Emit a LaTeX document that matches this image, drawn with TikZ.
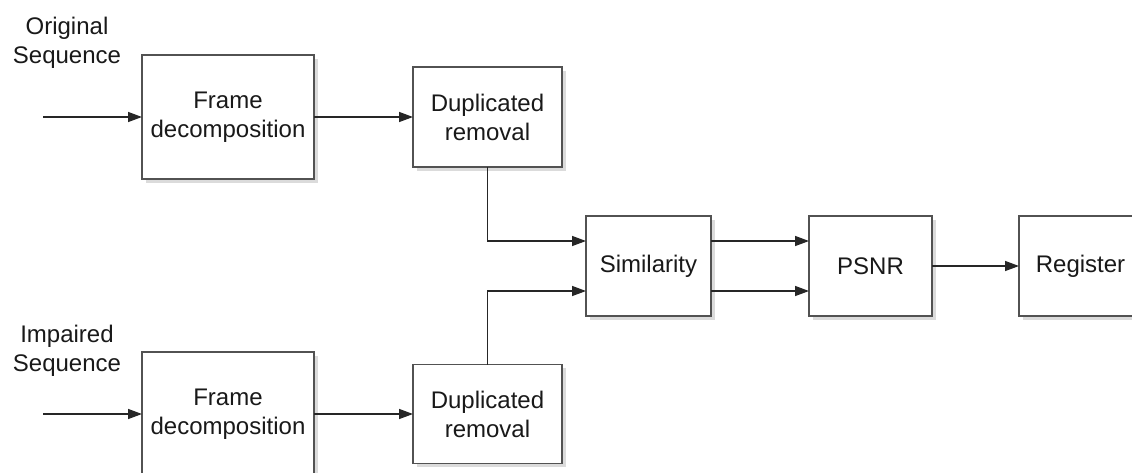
\documentclass[tikz,border=0pt]{standalone}
\usepackage{fontspec}
\setmainfont{Liberation Sans}
\usetikzlibrary{arrows.meta,shadows}
\begin{document}
\begin{tikzpicture}[x=1pt,y=-1pt,
  txt/.style={font=\fontsize{24}{29}\selectfont, text=black!90, align=center},
  blk/.style={txt, draw=black!68, line width=1.6pt, fill=white, inner sep=0pt, outer sep=0pt,
    drop shadow={shadow xshift=3.5pt, shadow yshift=-3.5pt, fill=black!14, opacity=1}},
  lbl/.style={txt, inner sep=0pt},
  conn/.style={draw=black!85, line width=1.4pt, -{Triangle[length=14pt,width=10pt]}}]
\clip (0,0) rectangle (1132,472);
\fill[white] (0,0) rectangle (1132,472);
% labels
\node[lbl] (L1) at (67,42.5) {Original\\Sequence};
\node[lbl] (L2) at (67,350.6) {Impaired\\Sequence};
% blocks
\node[blk, minimum width=172pt, minimum height=124pt] (F1) at (228,117) {Frame\\decomposition};
\node[blk, minimum width=149pt, minimum height=100pt] (D1) at (487.5,117) {Duplicated\\removal};
\node[blk, minimum width=172pt, minimum height=124pt] (F2) at (228,414) {Frame\\decomposition};
\node[blk, minimum width=149pt, minimum height=99pt] (D2) at (487.5,414) {Duplicated\\removal};
\node[blk, minimum width=125pt, minimum height=100pt] (Sim) at (648.5,266) {Similarity};
\node[blk, minimum width=123pt, minimum height=100pt] (PSNR) at (870.5,266) {PSNR};
\node[blk, minimum width=123pt, minimum height=100pt] (Reg) at (1080.5,266) {Register};
% inputs
\coordinate (in1) at (43,117);
\coordinate (in2) at (43,414);
% connectors
\draw[conn] (in1) -- (F1.west);
\draw[conn] (in2) -- (F2.west);
\draw[conn] (F1.east) -- (D1.west);
\draw[conn] (F2.east) -- (D2.west);
\draw[conn] (D1.south) |- ([yshift=25pt]Sim.west);
\draw[conn] (D2.north) |- ([yshift=-25pt]Sim.west);
\draw[conn] ([yshift=25pt]Sim.east) -- ([yshift=25pt]PSNR.west);
\draw[conn] ([yshift=-25pt]Sim.east) -- ([yshift=-25pt]PSNR.west);
\draw[conn] (PSNR.east) -- (Reg.west);
\end{tikzpicture}
\end{document}
